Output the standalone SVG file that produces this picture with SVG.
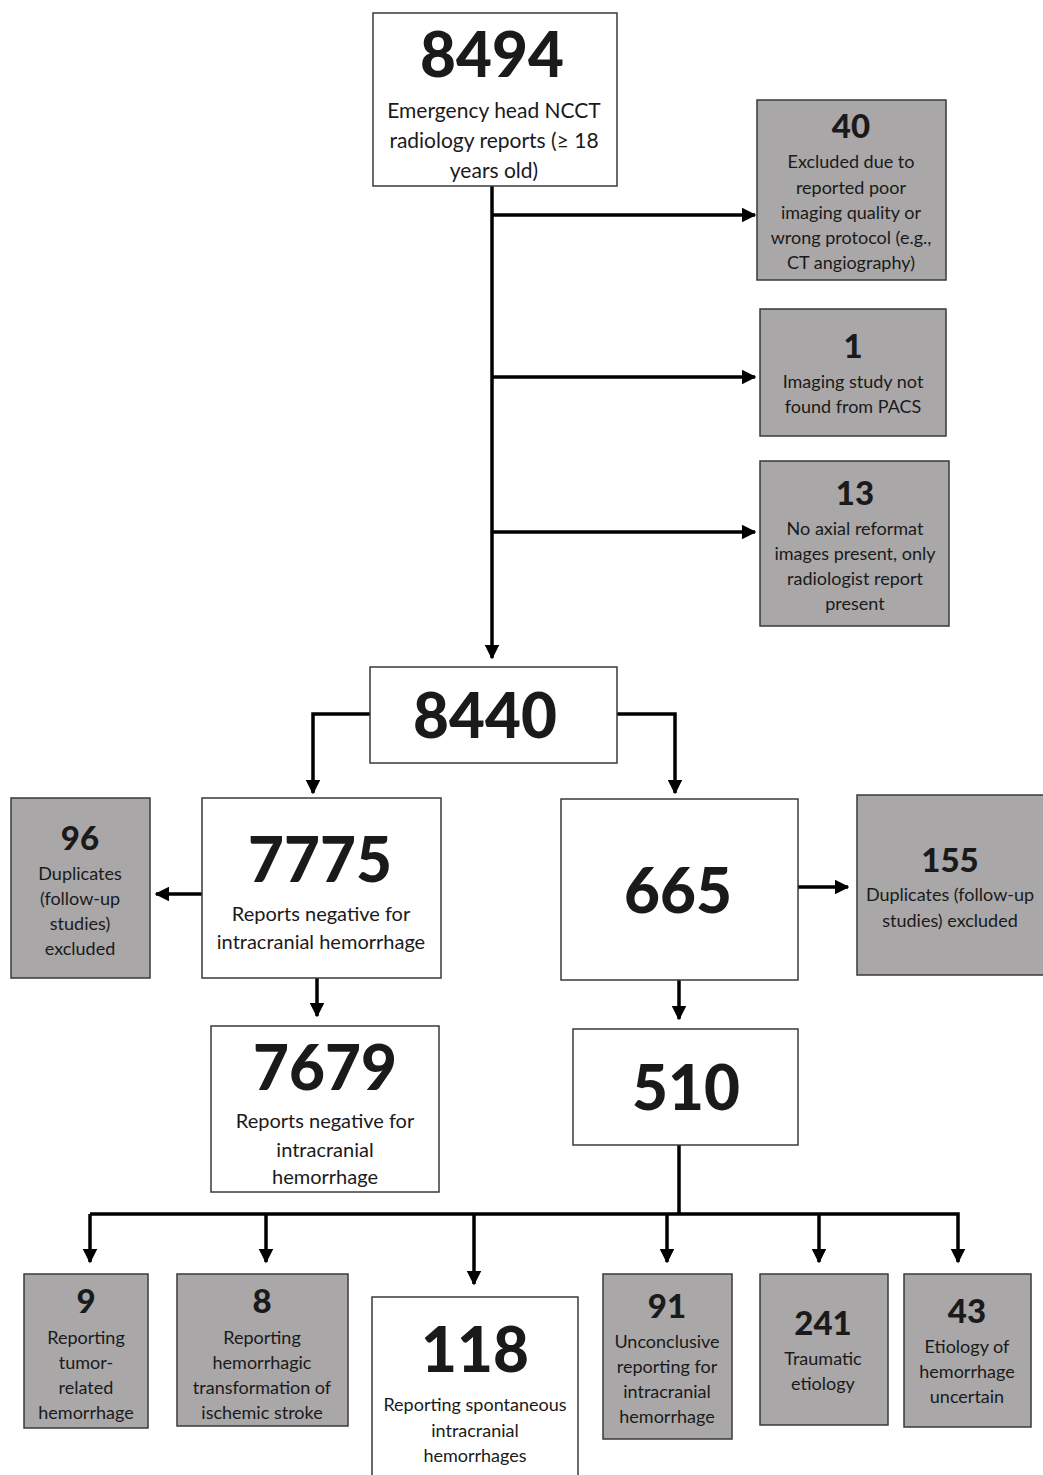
<svg xmlns="http://www.w3.org/2000/svg" width="1043" height="1475" viewBox="0 0 1043 1475">
<style>
.w{fill:#ffffff;stroke:#3a3a3a;stroke-width:1.5}
.g{fill:#a9a7a8;stroke:#3a3a3a;stroke-width:1.5}
text{font-family:Lato,"Liberation Sans",sans-serif;fill:#1a1a1a;text-anchor:middle}
.big{font-weight:900;font-size:62px}
.mid{font-weight:900;font-size:33px}
.t{font-size:20px}
.s{font-size:18px}
.c{fill:none;stroke:#000;stroke-width:3.5}
</style>
<defs>
<marker id="ah" viewBox="0 0 10 10" refX="9" refY="5" markerWidth="4.2" markerHeight="4.2" orient="auto" markerUnits="strokeWidth">
<path d="M0,0 L10,5 L0,10 z" fill="#000"/>
</marker>
</defs>
<rect width="1043" height="1475" fill="#fff"/>
<g id="connectors">
<path class="c" d="M492,186 V658" marker-end="url(#ah)"/>
<path class="c" d="M492,215 H755" marker-end="url(#ah)"/>
<path class="c" d="M492,377 H755" marker-end="url(#ah)"/>
<path class="c" d="M492,532 H755" marker-end="url(#ah)"/>
<path class="c" d="M370,714 H313 V793" marker-end="url(#ah)"/>
<path class="c" d="M617,714 H675 V793" marker-end="url(#ah)"/>
<path class="c" d="M202,894 H156" marker-end="url(#ah)"/>
<path class="c" d="M798,887 H848" marker-end="url(#ah)"/>
<path class="c" d="M317,978 V1016" marker-end="url(#ah)"/>
<path class="c" d="M679,980 V1019" marker-end="url(#ah)"/>
<path class="c" d="M679,1145 V1214"/>
<path class="c" d="M90,1214 H958 V1262" marker-end="url(#ah)"/>
<path class="c" d="M90,1214 V1262" marker-end="url(#ah)"/>
<path class="c" d="M266,1214 V1262" marker-end="url(#ah)"/>
<path class="c" d="M474,1214 V1284" marker-end="url(#ah)"/>
<path class="c" d="M667,1214 V1262" marker-end="url(#ah)"/>
<path class="c" d="M819,1214 V1262" marker-end="url(#ah)"/>
</g>
<g id="n8494">
<rect class="w" x="373" y="13" width="244" height="173"/>
<text class="big" x="492" y="77">8494</text>
<text class="t" x="494" y="118" style="font-size:21px">Emergency head NCCT</text>
<text class="t" x="494" y="148" style="font-size:21px">radiology reports (≥ 18</text>
<text class="t" x="494" y="178" style="font-size:21px">years old)</text>
</g>
<g id="n40">
<rect class="g" x="757" y="100" width="189" height="180"/>
<text class="mid" x="851" y="138">40</text>
<text class="s" x="851" y="168">Excluded due to</text>
<text class="s" x="851" y="194">reported poor</text>
<text class="s" x="851" y="219">imaging quality or</text>
<text class="s" x="851" y="244">wrong protocol (e.g.,</text>
<text class="s" x="851" y="269">CT angiography)</text>
</g>
<g id="n1">
<rect class="g" x="760" y="309" width="186" height="127"/>
<text class="mid" x="853" y="358">1</text>
<text class="s" x="853" y="388">Imaging study not</text>
<text class="s" x="853" y="413">found from PACS</text>
</g>
<g id="n13">
<rect class="g" x="760" y="461" width="189" height="165"/>
<text class="mid" x="855" y="505">13</text>
<text class="s" x="855" y="535">No axial reformat</text>
<text class="s" x="855" y="560">images present, only</text>
<text class="s" x="855" y="585">radiologist report</text>
<text class="s" x="855" y="610">present</text>
</g>
<g id="n8440">
<rect class="w" x="370" y="667" width="247" height="96"/>
<text class="big" x="485" y="738">8440</text>
</g>
<g id="n7775">
<rect class="w" x="202" y="798" width="239" height="180"/>
<text class="big" x="320" y="882">7775</text>
<text class="t" x="321" y="921">Reports negative for</text>
<text class="t" x="321" y="949">intracranial hemorrhage</text>
</g>
<g id="n96">
<rect class="g" x="11" y="798" width="139" height="180"/>
<text class="mid" x="80" y="850">96</text>
<text class="s" x="80" y="880">Duplicates</text>
<text class="s" x="80" y="905">(follow-up</text>
<text class="s" x="80" y="930">studies)</text>
<text class="s" x="80" y="955">excluded</text>
</g>
<g id="n665">
<rect class="w" x="561" y="799" width="237" height="181"/>
<text class="big" x="678" y="913">665</text>
</g>
<g id="n155">
<rect class="g" x="857" y="795" width="190" height="180"/>
<text class="mid" x="950" y="872">155</text>
<text class="s" x="950" y="901">Duplicates (follow-up</text>
<text class="s" x="950" y="927">studies) excluded</text>
</g>
<g id="n7679">
<rect class="w" x="211" y="1026" width="228" height="166"/>
<text class="big" x="325" y="1090">7679</text>
<text class="t" x="325" y="1128">Reports negative for</text>
<text class="t" x="325" y="1157">intracranial</text>
<text class="t" x="325" y="1184">hemorrhage</text>
</g>
<g id="n510">
<rect class="w" x="573" y="1029" width="225" height="116"/>
<text class="big" x="686" y="1110">510</text>
</g>
<g id="n9">
<rect class="g" x="24" y="1274" width="124" height="154"/>
<text class="mid" x="86" y="1313">9</text>
<text class="s" x="86" y="1344">Reporting</text>
<text class="s" x="86" y="1369">tumor-</text>
<text class="s" x="86" y="1394">related</text>
<text class="s" x="86" y="1419">hemorrhage</text>
</g>
<g id="n8">
<rect class="g" x="177" y="1274" width="171" height="152"/>
<text class="mid" x="262" y="1313">8</text>
<text class="s" x="262" y="1344">Reporting</text>
<text class="s" x="262" y="1369">hemorrhagic</text>
<text class="s" x="262" y="1394">transformation of</text>
<text class="s" x="262" y="1419">ischemic stroke</text>
</g>
<g id="n118">
<rect class="w" x="372" y="1297" width="206" height="185"/>
<text class="big" x="475" y="1372">118</text>
<text class="s" x="475" y="1411">Reporting spontaneous</text>
<text class="s" x="475" y="1437">intracranial</text>
<text class="s" x="475" y="1462">hemorrhages</text>
</g>
<g id="n91">
<rect class="g" x="603" y="1274" width="129" height="165"/>
<text class="mid" x="667" y="1318">91</text>
<text class="s" x="667" y="1348">Unconclusive</text>
<text class="s" x="667" y="1373">reporting for</text>
<text class="s" x="667" y="1398">intracranial</text>
<text class="s" x="667" y="1423">hemorrhage</text>
</g>
<g id="n241">
<rect class="g" x="760" y="1274" width="128" height="151"/>
<text class="mid" x="823" y="1335">241</text>
<text class="s" x="823" y="1365">Traumatic</text>
<text class="s" x="823" y="1390">etiology</text>
</g>
<g id="n43">
<rect class="g" x="904" y="1274" width="127" height="153"/>
<text class="mid" x="967" y="1323">43</text>
<text class="s" x="967" y="1353">Etiology of</text>
<text class="s" x="967" y="1378">hemorrhage</text>
<text class="s" x="967" y="1403">uncertain</text>
</g>
</svg>
